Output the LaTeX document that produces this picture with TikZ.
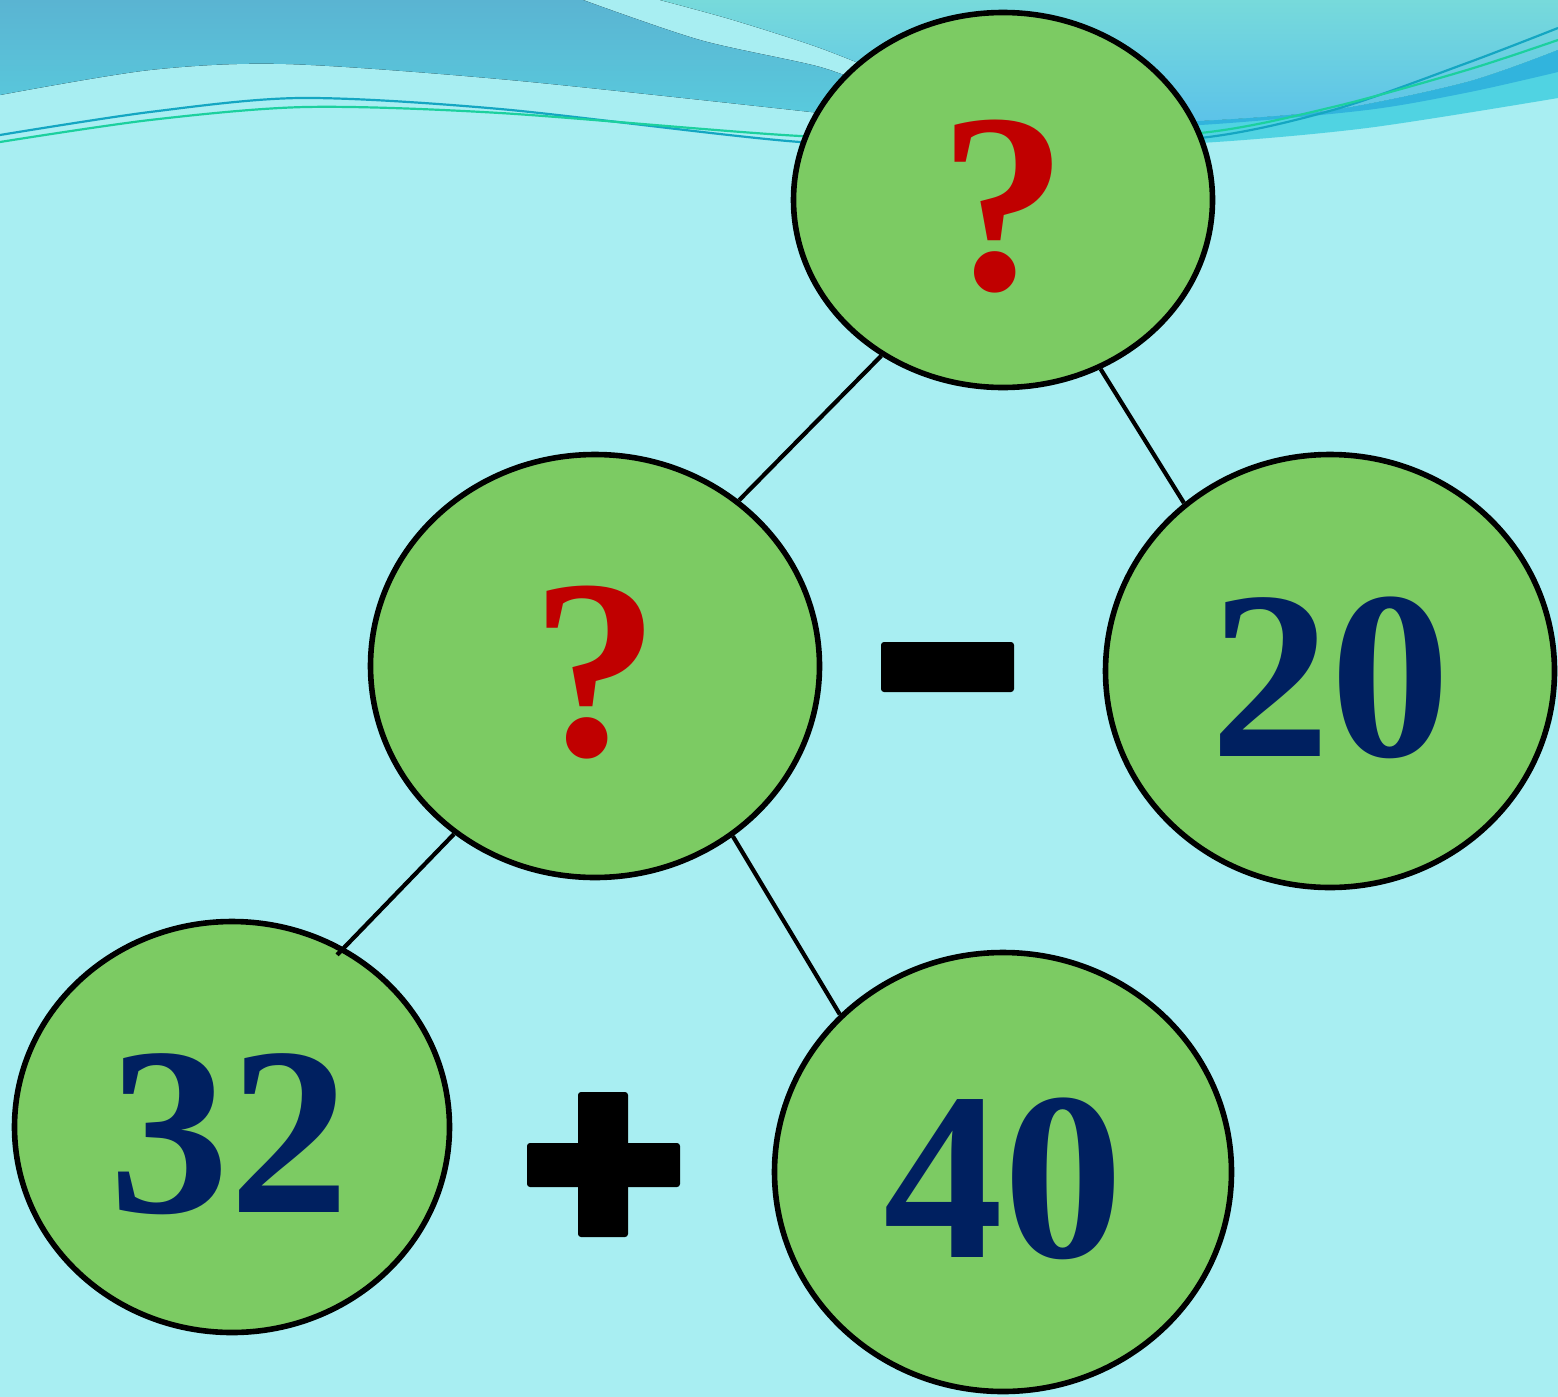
\documentclass[tikz,border=0pt]{standalone}
\usepackage{fontspec}
\setmainfont{Liberation Serif}
\usetikzlibrary{shapes.geometric}
\definecolor{bgc}{HTML}{A8EEF2}
\definecolor{bandtop}{HTML}{5AB4D2}
\definecolor{bandbot}{HTML}{59CDDE}
\definecolor{skytop}{HTML}{77DADB}
\definecolor{skybot}{HTML}{5BC2E9}
\definecolor{deepblue}{HTML}{31B4DD}
\definecolor{midcyan}{HTML}{50D3E2}
\definecolor{lineblue}{HTML}{14A6C2}
\definecolor{linegreen}{HTML}{1CD09E}
\definecolor{bubg}{HTML}{7CCB63}
\definecolor{qred}{HTML}{C00000}
\definecolor{numnavy}{HTML}{002060}
\tikzset{
  bub/.style={ellipse, draw=black, line width=2.8pt, fill=bubg, inner sep=0pt},
  qtext/.style={text=qred, font=\fontsize{128}{128}\selectfont\bfseries},
  ntext/.style={text=numnavy, font=\fontsize{120}{120}\selectfont\bfseries},
  conn/.style={draw=black, line width=2.1pt},
  opbar/.style={fill=black, rounded corners=1.5pt, inner sep=0pt, draw=none},
  wave/.style={line width=1.1pt}
}
\begin{document}
\begin{tikzpicture}[x=0.5pt,y=-0.5pt]
\useasboundingbox (0,0) rectangle (1558,1397);
\fill[bgc] (0,0) rectangle (1558,1397);
% left dark band
\fill[top color=bandtop, bottom color=bandbot]
  (0,0) -- (583,0)
  -- plot[smooth] coordinates {(583,0) (700,40) (820,67) (880,90)}
  -- (880,130) -- (820,113)
  -- plot[smooth] coordinates {(820,113) (510,80) (286,64) (150,70) (0,95)}
  -- cycle;
% right sky
\fill[top color=skytop, bottom color=skybot]
  (660,0) -- (1558,0) -- (1558,50)
  -- plot[smooth] coordinates {(1558,50) (1467,82) (1333,110) (1200,121) (1050,125)}
  -- (900,80)
  -- plot[smooth] coordinates {(900,80) (820,48) (733,20) (660,0)}
  -- cycle;
% medium cyan band
\fill[midcyan]
  plot[smooth] coordinates {(1558,50) (1467,82) (1333,110) (1200,121) (1050,125)}
  -- plot[smooth] coordinates {(1050,146) (1200,143) (1367,128) (1558,98)}
  -- cycle;
% deep blue band
\fill[deepblue]
  plot[smooth] coordinates {(1558,50) (1467,82) (1333,110) (1200,121) (1050,125)}
  -- plot[smooth] coordinates {(1050,128) (1200,125) (1367,110) (1470,92) (1558,72)}
  -- cycle;
% thin wave lines
\draw[wave, lineblue] plot[smooth] coordinates {(0,135) (150,112) (301,98) (500,109) (800,142) (1000,146) (1200,138) (1333,110) (1467,63) (1558,28)};
\draw[wave, linegreen] plot[smooth] coordinates {(0,142) (150,120) (306,107) (500,113) (800,136) (1000,140) (1200,133) (1333,107) (1467,70) (1558,40)};
% bubbles
\node[bub, minimum width=209.5pt, minimum height=187.5pt] (top) at (1003,200) {};
\node[qtext] (topq) at ([yshift=-3.5pt]top.center) {?};
\node[bub, minimum width=224.5pt, minimum height=211.5pt] (mid) at (595,666) {};
\node[qtext] (midq) at ([yshift=-3.5pt]mid.center) {?};
\node[bub, minimum width=224.5pt, minimum height=216.5pt] (right) at (1330,671) {};
\node[ntext] (rightn) at ([yshift=-3.5pt]right.center) {20};
\node[bub, minimum width=217.5pt, minimum height=205.5pt] (bl) at (232,1127) {};
\node[ntext] (bln) at ([xshift=-1.5pt,yshift=-3.5pt]bl.center) {32};
\node[bub, minimum width=228.5pt, minimum height=219.5pt] (bm) at (1003,1172) {};
\node[ntext] (bmn) at ([yshift=-3.5pt]bm.center) {40};
% connectors
\draw[conn] (top.232.8) -- (mid.49);
\draw[conn] (top.300.2) -- (right.131);
\draw[conn, shorten >=-5pt] (mid.230.7) -- (bl.58);
\draw[conn] (mid.309.5) -- (bm.136.4);
% operators
\node[opbar, minimum width=66.5pt, minimum height=25pt] (minus) at (947.5,667) {};
\node[opbar, minimum width=25pt, minimum height=72.5pt] (plusv) at (603,1164.5) {};
\node[opbar, minimum width=76.5pt, minimum height=22pt] (plush) at (603.5,1165) {};
\end{tikzpicture}
\end{document}
